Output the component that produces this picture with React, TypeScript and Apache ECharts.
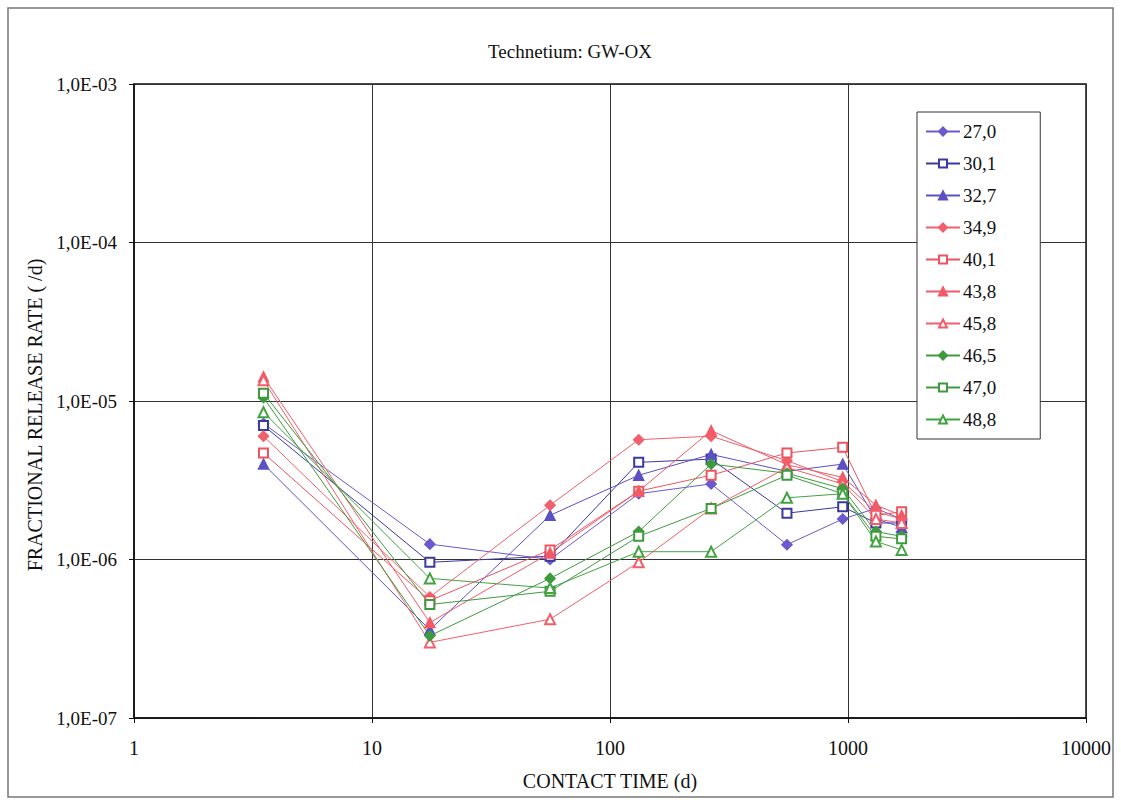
import React, { useEffect, useRef } from "react";
import * as echarts from "echarts";

const contactTime = [3.5, 17.5, 56, 132, 266, 554, 950, 1310, 1680];

const seriesNames = ["27,0", "30,1", "32,7", "34,9", "40,1", "43,8", "45,8", "46,5", "47,0", "48,8"];

const s27_0 = [7.2e-6, 1.25e-6, 1.0e-6, 2.6e-6, 3.0e-6, 1.24e-6, 1.8e-6, 2.1e-6, 1.8e-6];
const s30_1 = [7.0e-6, 9.6e-7, 1.05e-6, 4.1e-6, 4.3e-6, 1.96e-6, 2.15e-6, 1.7e-6, 1.7e-6];
const s32_7 = [4.0e-6, 3.6e-7, 1.9e-6, 3.4e-6, 4.6e-6, 3.6e-6, 4.0e-6, 1.8e-6, 1.6e-6];
const s34_9 = [6.0e-6, 5.8e-7, 2.2e-6, 5.7e-6, 6.0e-6, 4.2e-6, 3.1e-6, 2.0e-6, 1.8e-6];
const s40_1 = [4.7e-6, 5.5e-7, 1.15e-6, 2.7e-6, 3.4e-6, 4.7e-6, 5.1e-6, 1.9e-6, 2.0e-6];
const s43_8 = [1.42e-5, 4.0e-7, 1.1e-6, 2.7e-6, 6.5e-6, 3.96e-6, 3.3e-6, 2.2e-6, 1.9e-6];
const s45_8 = [1.35e-5, 3.0e-7, 4.2e-7, 9.6e-7, 2.1e-6, 3.8e-6, 3.0e-6, 1.8e-6, 1.7e-6];
const s46_5 = [1.05e-5, 3.3e-7, 7.6e-7, 1.5e-6, 4.0e-6, 3.5e-6, 2.8e-6, 1.5e-6, 1.4e-6];
const s47_0 = [1.12e-5, 5.2e-7, 6.3e-7, 1.4e-6, 2.1e-6, 3.4e-6, 2.6e-6, 1.4e-6, 1.35e-6];
const s48_8 = [8.5e-6, 7.6e-7, 6.6e-7, 1.12e-6, 1.12e-6, 2.45e-6, 2.6e-6, 1.3e-6, 1.15e-6];

const allValues = [s27_0, s30_1, s32_7, s34_9, s40_1, s43_8, s45_8, s46_5, s47_0, s48_8];

const symbols = ["diamond", "emptyRect", "triangle", "diamond", "emptyRect", "triangle", "emptyTriangle", "diamond", "emptyRect", "emptyTriangle"];
const colors = ["#6a5acd", "#3a3a9e", "#5b50c4", "#f0606c", "#ec5560", "#f25a66", "#f0606c", "#3f9a3f", "#3f9a3f", "#43a343"];
const symbolSizes = [10, 9, 10, 10, 9, 10, 10, 10, 9, 10];

const xTickLabels = ["1", "10", "100", "1000", "10000"];
const yTickLabels = ["1,0E-07", "1,0E-06", "1,0E-05", "1,0E-04", "1,0E-03"];

const FONT = "Liberation Serif";

export default function App() {
  const ref = useRef<HTMLDivElement>(null);
  useEffect(() => {
    document.body.style.margin = "0";
    const chart = echarts.init(ref.current!, null, { renderer: "svg" });
    const series = seriesNames.map((name, i) => ({
      name,
      type: "line",
      data: contactTime.map((t, j) => [t, allValues[i][j]]),
      symbol: symbols[i],
      symbolSize: symbolSizes[i],
      showAllSymbol: true,
      lineStyle: { color: colors[i], width: 1 },
      itemStyle: { color: colors[i], borderColor: colors[i], borderWidth: 1.5 },
      emphasis: { disabled: true },
    }));
    chart.setOption({
      animation: false,
      backgroundColor: "#ffffff",
      textStyle: { fontFamily: FONT },
      title: {
        text: "Technetium: GW-OX",
        left: 565,
        top: 37,
        textAlign: "center",
        textStyle: { fontFamily: FONT, fontSize: 19, fontWeight: "normal", color: "#111" },
      },
      graphic: [
        {
          type: "rect",
          shape: { x: 8, y: 8, width: 1105, height: 789 },
          style: { fill: "none", stroke: "#777", lineWidth: 1.5 },
          silent: true,
        },
      ],
      legend: {
        orient: "vertical",
        left: 917,
        top: 112,
        data: seriesNames,
        itemWidth: 34,
        itemHeight: 10,
        itemGap: 13,
        padding: [10, 44, 10, 8],
        borderColor: "#333",
        borderWidth: 1,
        backgroundColor: "#fff",
        textStyle: { fontFamily: FONT, fontSize: 19, color: "#111", padding: [0, 0, 0, -2] },
      },
      grid: { left: 134, right: 35, top: 84, bottom: 87, show: true, borderColor: "#111", borderWidth: 1.5 },
      xAxis: {
        type: "log",
        logBase: 10,
        min: 1,
        max: 10000,
        name: "CONTACT TIME (d)",
        nameLocation: "middle",
        nameGap: 53,
        nameTextStyle: { fontFamily: FONT, fontSize: 20, color: "#111" },
        axisLine: { show: true, lineStyle: { color: "#111", width: 1.5 } },
        axisTick: { show: true, inside: false, length: 5, lineStyle: { color: "#111" } },
        minorTick: { show: false },
        axisLabel: {
          fontFamily: FONT,
          fontSize: 20,
          color: "#111",
          margin: 20,
          formatter: (v: number) => xTickLabels[Math.round(Math.log10(v))] ?? "",
        },
        splitLine: { show: true, lineStyle: { color: "#333", width: 1 } },
      },
      yAxis: {
        type: "log",
        logBase: 10,
        min: 1e-7,
        max: 1e-3,
        name: "FRACTIONAL RELEASE RATE ( /d)",
        nameLocation: "middle",
        nameGap: 89,
        nameTextStyle: { fontFamily: FONT, fontSize: 20, color: "#111", padding: [0, 28, 0, 0] },
        axisLine: { show: true, lineStyle: { color: "#111", width: 1.5 } },
        axisTick: { show: true, inside: false, length: 5, lineStyle: { color: "#111" } },
        axisLabel: {
          fontFamily: FONT,
          fontSize: 19,
          color: "#111",
          margin: 17,
          formatter: (v: number) => yTickLabels[Math.round(Math.log10(v)) + 7] ?? "",
        },
        splitLine: { show: true, lineStyle: { color: "#333", width: 1 } },
      },
      series,
    });
    return () => chart.dispose();
  }, []);
  return <div ref={ref} style={{ width: 1121, height: 805 }} />;
}
